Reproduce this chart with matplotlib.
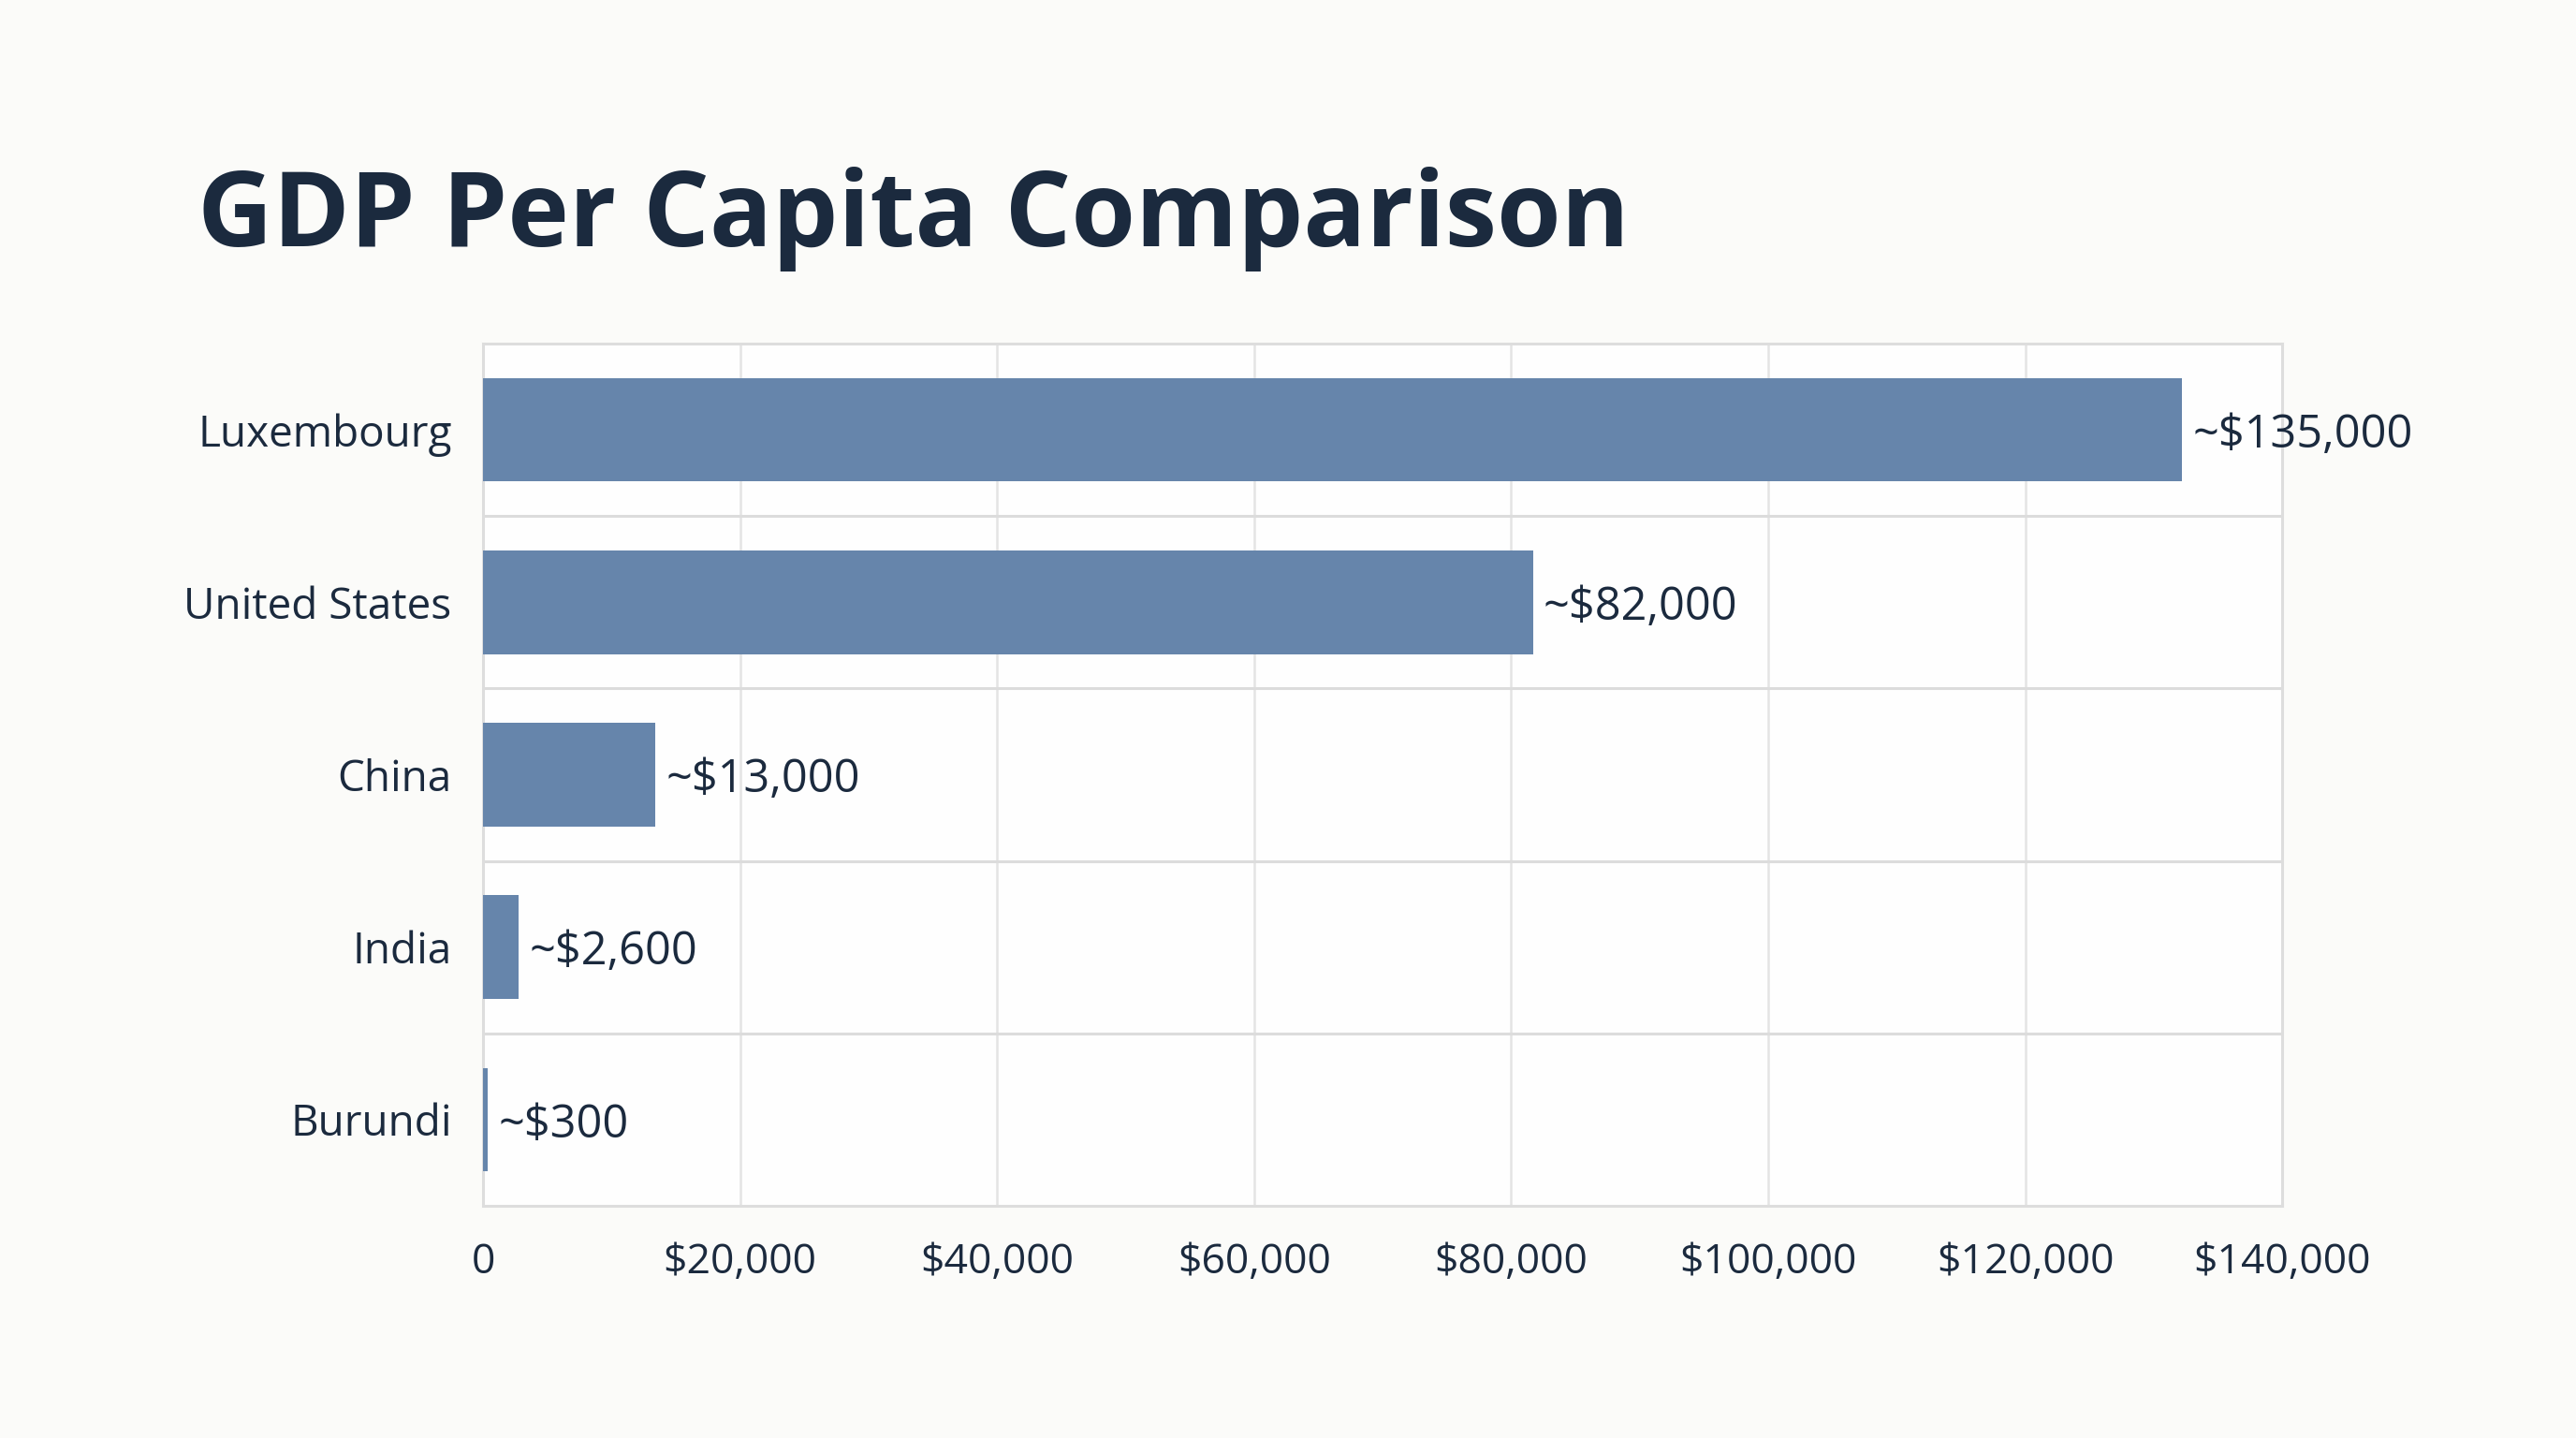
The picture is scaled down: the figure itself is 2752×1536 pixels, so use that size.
import numpy as np
import matplotlib.pyplot as plt
from matplotlib.ticker import FuncFormatter

# data
countries = ["Luxembourg", "United States", "China", "India", "Burundi"]
gdp_bar = [132200, 81700, 13400, 2800, 400]
gdp_text = ["~$135,000", "~$82,000", "~$13,000", "~$2,600", "~$300"]
x_ticks = [0, 20000, 40000, 60000, 80000, 100000, 120000, 140000]

navy = "#1b2a3e"
bar_color = "#6685ab"
plt.rcParams['font.family'] = ['Open Sans', 'DejaVu Sans']

fig = plt.figure(figsize=(13.76, 7.68), dpi=200, facecolor="#fbfbf9")
ax = fig.add_axes([0.1875, 0.1615, 0.6985, 0.5995])
ax.set_facecolor("#fefefe")

y = np.arange(len(countries))
ax.barh(y, gdp_bar, height=0.6, color=bar_color, zorder=3)

for yi, v, t in zip(y, gdp_bar, gdp_text):
    ax.annotate(t, (v, yi), xytext=(4, 0), textcoords="offset points",
                ha="left", va="center_baseline", fontsize=17.5, fontweight="medium",
                color=navy, zorder=4)

ax.set_ylim(len(countries) - 0.5, -0.5)
ax.set_xlim(0, 140000)
ax.set_yticks(y)
ax.set_yticklabels(countries)
ax.set_xticks(x_ticks)
ax.xaxis.set_major_formatter(FuncFormatter(lambda v, p: "0" if v == 0 else f"${v:,.0f}"))
ax.tick_params(axis="both", length=0, labelcolor=navy)
ax.tick_params(axis="x", pad=14, labelsize=16)
ax.tick_params(axis="y", pad=12, labelsize=16.5)

# grid: vertical at ticks, horizontal row separators
for xv in x_ticks:
    ax.axvline(xv, color="#e4e4e4", lw=0.9, zorder=1)
for k in range(1, len(countries)):
    ax.axhline(k - 0.5, color="#dcdcdc", lw=1.1, zorder=1)
for s in ax.spines.values():
    s.set_color("#dddddd")
    s.set_linewidth(1.1)

fig.text(0.0765, 0.829, "GDP Per Capita Comparison", fontsize=40, fontweight="bold",
         color=navy, ha="left", va="baseline")

fig.savefig("out.png", dpi=200, facecolor=fig.get_facecolor())
